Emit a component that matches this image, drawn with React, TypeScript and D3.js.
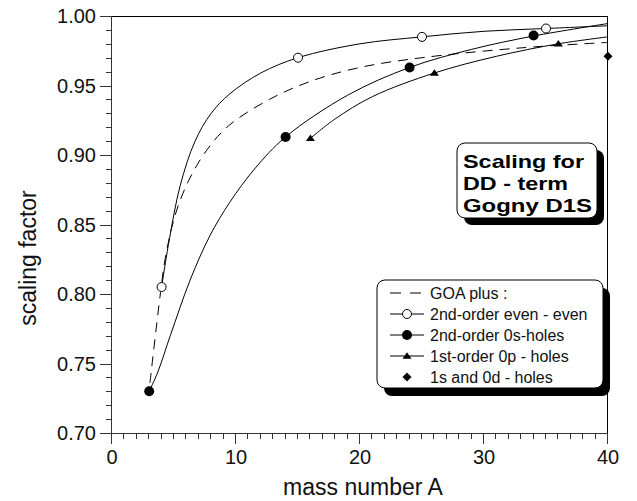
import React from "react";
import * as d3 from "d3";

// ---- data ----
const xTicks = [0, 10, 20, 30, 40];
const yTicks = [0.7, 0.75, 0.8, 0.85, 0.9, 0.95, 1.0];

// markers
const evenEvenPts: [number, number][] = [[4, 0.805], [15, 0.970], [25, 0.985], [35, 0.991]];
const sHolesPts: [number, number][] = [[3, 0.730], [14, 0.913], [24, 0.963], [34, 0.986]];
const pHolesPts: [number, number][] = [[16, 0.912], [26, 0.959], [36, 0.980]];
const sdHolesPts: [number, number][] = [[40, 0.971]];

// fitted curves
const goaCurve: [number, number][] = [
  [3.06, 0.736], [3.87, 0.798], [4.3, 0.826], [5.1, 0.857], [6.15, 0.881], [7.6, 0.903],
  [9.4, 0.921], [12.7, 0.940], [16, 0.953], [20, 0.9630], [25, 0.970],
  [32.9, 0.977], [40, 0.981],
];
const evenEvenCurve: [number, number][] = [
  [4, 0.805], [4.6, 0.838], [5.5, 0.878], [6.7, 0.910], [8, 0.930], [9.5, 0.944],
  [12, 0.959], [15, 0.970], [20, 0.980], [25, 0.985], [30, 0.989], [35, 0.991], [40, 0.993],
];
const sHolesCurve: [number, number][] = [
  [3, 0.730], [3.7, 0.744], [4.7, 0.770], [6.3, 0.810], [7.9, 0.842], [9.5, 0.866],
  [11.5, 0.890], [14, 0.913], [19, 0.943], [24, 0.963], [29, 0.976], [34, 0.9856], [40, 0.9946],
];
const pHolesCurve: [number, number][] = [
  [16, 0.912], [18, 0.926], [21, 0.942], [26, 0.959], [31, 0.971], [36, 0.980], [40, 0.985],
];

const legendLabels = [
  "GOA plus :",
  "2nd-order even - even",
  "2nd-order 0s-holes",
  "1st-order 0p - holes",
  "1s and 0d - holes",
];
const boxLines = ["Scaling for", "DD - term", "Gogny D1S"];
const boxLineWidths = [121, 105, 129];

const W = 637, H = 501;
const L = 112, R = 608, T = 16, B = 433;

export default function App() {
  const x = d3.scaleLinear().domain([0, 40]).range([L, R]);
  const y = d3.scaleLinear().domain([0.7, 1.0]).range([B, T]);
  const line = d3.line<[number, number]>().x(d => x(d[0])).y(d => y(d[1])).curve(d3.curveCatmullRom.alpha(0.5));

  const xMinor = d3.range(0, 41, 1);
  const yMinor = d3.range(70, 101, 1).map(v => v / 100);
  const font = "Liberation Sans, Arial, Helvetica, sans-serif";

  const tri = (cx: number, cy: number, s: number) =>
    `M${cx},${cy - s * 0.85} L${cx + s},${cy + s * 0.6} L${cx - s},${cy + s * 0.6} Z`;
  const dia = (cx: number, cy: number, s: number) =>
    `M${cx},${cy - s} L${cx + s},${cy} L${cx},${cy + s} L${cx - s},${cy} Z`;

  // legend geometry
  const lgX = 377, lgY = 280, lgW = 226, lgH = 108;
  const rowY = (i: number) => 293 + i * 21;
  const symX = 407;

  const bxX = 457, bxY = 143, bxW = 140, bxH = 75;

  return (
    <svg width={W} height={H} style={{ position: "absolute", left: 0, top: 0 }} fontFamily={font}>
      <rect width={W} height={H} fill="#fff" />
      {/* frame */}
      <line x1={L} x2={R} y1={T + 0.5} y2={T + 0.5} stroke="#000" />
      <line x1={R - 0.5} x2={R - 0.5} y1={T} y2={B} stroke="#000" />
      <line x1={L - 0.5} x2={L - 0.5} y1={T} y2={B + 1} stroke="#333" />
      <line x1={L - 1} x2={R} y1={B + 0.5} y2={B + 0.5} stroke="#333" />
      {/* y ticks */}
      {yMinor.map((v, i) => (
        <line key={"ym" + i} x1={L - (i % 5 === 0 ? 12 : 6)} x2={L} y1={Math.round(y(v)) + 0.5} y2={Math.round(y(v)) + 0.5} stroke="#333" />
      ))}
      {yTicks.map((v, i) => (
        <text key={"yt" + i} x={96} y={y(v) + 7} fontSize={20} textAnchor="end" fill="#111">{v.toFixed(2)}</text>
      ))}
      {/* x ticks */}
      {xMinor.map((v, i) => (
        <line key={"xm" + i} x1={Math.round(x(v)) - 0.5} x2={Math.round(x(v)) - 0.5} y1={B} y2={B + (i % 10 === 0 ? 11 : 6)} stroke="#333" />
      ))}
      {xTicks.map((v, i) => (
        <text key={"xt" + i} x={x(v)} y={464} fontSize={20} textAnchor="middle" fill="#111">{v}</text>
      ))}
      <text x={363} y={495} fontSize={23} textAnchor="middle" fill="#111">mass number A</text>
      <text transform={`translate(36,258) rotate(-90)`} fontSize={23} textAnchor="middle" fill="#111">scaling factor</text>

      {/* curves */}
      <path d={line(goaCurve) || ""} fill="none" stroke="#000" strokeWidth={1} strokeDasharray="10,7" />
      <path d={line(evenEvenCurve) || ""} fill="none" stroke="#000" strokeWidth={1} />
      <path d={line(sHolesCurve) || ""} fill="none" stroke="#000" strokeWidth={1} />
      <path d={line(pHolesCurve) || ""} fill="none" stroke="#000" strokeWidth={1} />

      {/* markers */}
      {evenEvenPts.map((d, i) => (
        <circle key={"ee" + i} cx={x(d[0])} cy={y(d[1])} r={4.5} fill="#fff" stroke="#000" strokeWidth={1} />
      ))}
      {sHolesPts.map((d, i) => (
        <circle key={"sh" + i} cx={x(d[0])} cy={y(d[1])} r={5} fill="#000" />
      ))}
      {pHolesPts.map((d, i) => (
        <path key={"ph" + i} d={tri(x(d[0]), y(d[1]), 4.5)} fill="#000" />
      ))}
      {sdHolesPts.map((d, i) => (
        <path key={"sd" + i} d={dia(x(d[0]), y(d[1]), 4.5)} fill="#000" />
      ))}

      {/* text box */}
      <rect x={bxX + 7} y={bxY + 7} width={bxW} height={bxH} rx={8} fill="#000" />
      <rect x={bxX} y={bxY} width={bxW} height={bxH} rx={8} fill="#fff" stroke="#000" />
      {boxLines.map((t, i) => (
        <text key={"bx" + i} x={bxX + 6} y={bxY + 25 + i * 22} fontSize={19} fontWeight="bold" fill="#000"
          textLength={boxLineWidths[i]} lengthAdjust="spacingAndGlyphs">{t}</text>
      ))}

      {/* legend */}
      <rect x={lgX + 7} y={lgY + 8} width={lgW} height={lgH} rx={8} fill="#000" />
      <rect x={lgX} y={lgY} width={lgW} height={lgH} rx={8} fill="#fff" stroke="#000" />
      <line x1={390} x2={424} y1={rowY(0)} y2={rowY(0)} stroke="#000" strokeDasharray="11,9" />
      <line x1={390} x2={424} y1={rowY(1)} y2={rowY(1)} stroke="#000" />
      <circle cx={symX} cy={rowY(1)} r={4.5} fill="#fff" stroke="#000" />
      <line x1={390} x2={424} y1={rowY(2)} y2={rowY(2)} stroke="#000" />
      <circle cx={symX} cy={rowY(2)} r={5} fill="#000" />
      <line x1={390} x2={424} y1={rowY(3)} y2={rowY(3)} stroke="#000" />
      <path d={tri(symX, rowY(3), 4.5)} fill="#000" />
      <path d={dia(symX, rowY(4), 4.5)} fill="#000" />
      {legendLabels.map((t, i) => (
        <text key={"lg" + i} x={430} y={rowY(i) + 6} fontSize={16} fill="#111">{t}</text>
      ))}
    </svg>
  );
}
